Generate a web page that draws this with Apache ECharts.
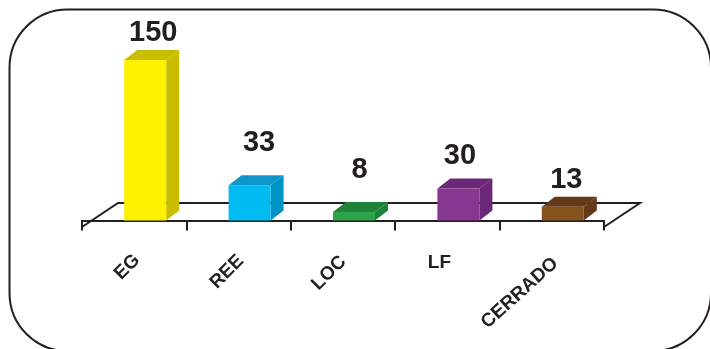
<!DOCTYPE html>
<html><head><meta charset="utf-8">
<style>html,body{margin:0;padding:0;background:#fff}#c{width:710px;height:349px}</style>
<script src="https://cdn.jsdelivr.net/npm/echarts@6/dist/echarts.min.js"></script></head>
<body><div id="c"></div>
<script>
const categories = ['EG','REE','LOC','LF','CERRADO'];
const values = [150,33,8,30,13];
const frontColors = ['#fff200','#00bbf2','#2ea449','#87378f','#84521c'];
const topColors = ['#c9bd00','#0f95c9','#1f8239','#6c2878','#62391a'];
const sideColors = ['#c9bd00','#0093c6','#1f8239','#6c2878','#62391a'];
// layout tables (pixels), separate from data
const labelLift = [17,32,32,22,17];
const labelShift = [1.5,3,-1,-5,-3];
const catLabelPos = [[-7,40],[-11.6,45],[-14,46],[-8,36],[-32,66]];
const catLabelRot = [45,45,45,0,42];
const barW = 42, depthX = 13, depthY = 10, barShift = 11;
const floorDX = 36, floorDY = 24, ink = '#231f20';

const chart = echarts.init(document.getElementById('c'));
function renderBar(params, api){
  const i = api.value(0), v = api.value(1);
  const c = api.coord([i, v]), b = api.coord([i, 0]);
  const x0 = c[0] + barShift - barW/2, x1 = x0 + barW, yt = c[1], yb = b[1];
  const poly = (pts, fill) => ({type:'polygon', shape:{points:pts}, style:{fill}});
  return {type:'group', children:[
    poly([[x1,yt],[x1+depthX,yt-depthY],[x1+depthX,yb-depthY],[x1,yb]], sideColors[i]),
    poly([[x0,yt],[x0+depthX,yt-depthY],[x1+depthX,yt-depthY],[x1,yt]], topColors[i]),
    {type:'rect', shape:{x:x0,y:yt,width:barW,height:yb-yt}, style:{fill:frontColors[i]}},
    {type:'text', style:{text:String(v), x:x0+barW/2+depthX/2+labelShift[i], y:yt-depthY-labelLift[i], align:'center', verticalAlign:'middle',
      font:'bold 29px "Liberation Sans", Arial', fill:ink}}
  ]};
}
function renderCat(params, api){
  const i = api.value(0), p = api.coord([i, -6]);
  return {type:'text', x:p[0]+catLabelPos[i][0], y:p[1]+catLabelPos[i][1], rotation:catLabelRot[i]*Math.PI/180,
    style:{text:categories[i], x:0, y:0, align:'center', verticalAlign:'middle', font:'bold 19px "Liberation Sans", Arial', fill:ink}};
}
function renderFloor(params, api){
  const cs = params.coordSys;
  const yf = cs.y + cs.height, xl = cs.x, xr = cs.x + cs.width;
  return {type:'polyline', shape:{points:[[xl,yf],[xl+floorDX,yf-floorDY],[xr+floorDX,yf-floorDY],[xr,yf]]},
    style:{fill:null, stroke:ink, lineWidth:2}};
}
chart.setOption({
  animation:false,
  backgroundColor:'#fff',
  graphic:[{type:'rect', shape:{x:9.5,y:9.5,width:701.5,height:341.5,r:58}, style:{fill:'none',stroke:ink,lineWidth:2}, z:-1}],
  grid:{left:82,top:60,width:522,height:167},
  xAxis:{type:'category',data:categories,
    axisLine:{lineStyle:{color:ink,width:2}},
    axisTick:{show:true,length:10,alignWithLabel:false,lineStyle:{color:ink,width:2}},
    axisLabel:{show:false}},
  yAxis:{type:'value',min:-6,max:150,show:false,splitLine:{show:false}},
  series:[
    {type:'custom',renderItem:renderFloor,data:[[0,0]],silent:true,z:1,clip:false},
    {type:'custom',renderItem:renderBar,data:values.map((v,i)=>[i,v]),encode:{x:0,y:1},z:2,clip:false},
    {type:'custom',renderItem:renderCat,data:values.map((v,i)=>[i,v]),encode:{x:0,y:1},z:3,clip:false}
  ]
});
</script></body></html>
